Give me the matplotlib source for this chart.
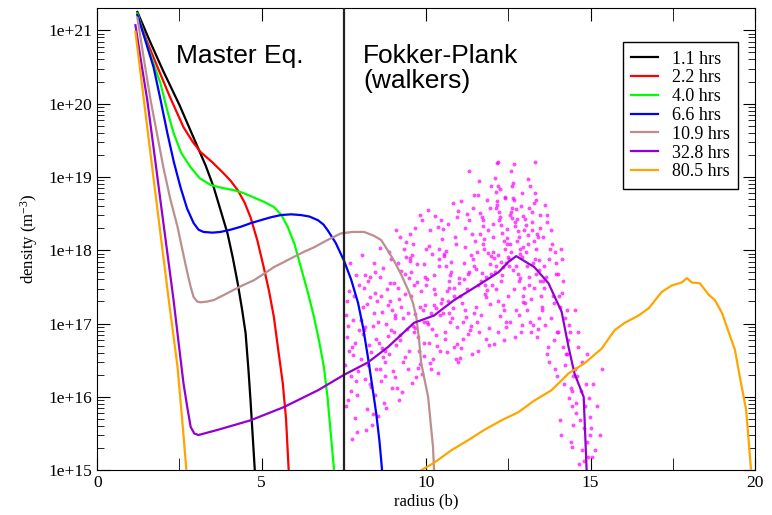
# imports
import numpy as np
import matplotlib
matplotlib.use("Agg")
import matplotlib.pyplot as plt
from matplotlib.ticker import FuncFormatter, LogLocator, MultipleLocator

# density profiles: radius (b) and log10 of density (m^-3)
r_1h = [1.22, 1.6, 2.0, 2.5, 3.05, 3.3, 3.54, 3.96, 4.12, 4.27, 4.4, 4.51, 4.6, 4.66, 4.79]
n_1h = [21.25, 20.85, 20.45, 19.98, 19.41, 19.15, 18.86, 18.23, 17.9, 17.55, 17.2, 16.87,
        16.35, 15.95, 15.0]

r_2h = [1.22, 1.5, 1.83, 2.2, 2.62, 2.9, 3.14, 3.5, 3.84, 4.05, 4.27, 4.48, 4.66, 4.87, 5.06,
        5.22, 5.37, 5.5, 5.64, 5.74, 5.82]
n_2h = [21.22, 20.86, 20.50, 20.1, 19.68, 19.48, 19.34, 19.2, 19.05, 18.95, 18.82, 18.65,
        18.45, 18.13, 17.77, 17.45, 17.09, 16.65, 16.19, 15.7, 15.0]

r_4h = [1.22, 1.55, 1.92, 2.12, 2.32, 2.55, 2.84, 3.12, 3.45, 3.8, 4.15, 4.45, 4.76, 5.07,
        5.37, 5.6, 5.79, 6.0, 6.19, 6.4, 6.59, 6.75, 6.89, 7.0, 7.10, 7.20]
n_4h = [21.23, 20.75, 20.28, 19.92, 19.60, 19.33, 19.13, 18.98, 18.89, 18.85, 18.82, 18.78,
        18.72, 18.66, 18.59, 18.48, 18.32, 18.08, 17.77, 17.43, 17.09, 16.75, 16.41, 16.0,
        15.5, 15.0]

r_6h = [1.22, 1.45, 1.71, 1.92, 2.13, 2.33, 2.53, 2.73, 2.93, 3.08, 3.23, 3.5, 3.75, 4.05,
        4.36, 4.67, 4.97, 5.28, 5.58, 5.9, 6.19, 6.45, 6.71, 6.88, 7.01, 7.25, 7.50, 7.72,
        7.93, 8.09, 8.23, 8.36, 8.48, 8.58, 8.66]
n_6h = [21.21, 20.88, 20.50, 20.06, 19.60, 19.2, 18.86, 18.57, 18.37, 18.28, 18.25, 18.24,
        18.25, 18.28, 18.32, 18.37, 18.41, 18.45, 18.48, 18.49, 18.48, 18.46, 18.41, 18.35,
        18.27, 18.1, 17.86, 17.6, 17.28, 16.93, 16.54, 16.15, 15.78, 15.4, 15.0]

r_10h = [1.22, 1.42, 1.62, 1.82, 2.01, 2.22, 2.44, 2.6, 2.74, 2.84, 2.93, 3.04, 3.14, 3.34,
         3.54, 3.85, 4.15, 4.46, 4.76, 5.07, 5.37, 5.68, 5.98, 6.29, 6.59, 7.0, 7.41, 7.76,
         8.11, 8.4, 8.63, 8.83, 9.02, 9.25, 9.45, 9.6, 9.70, 9.78, 9.85, 10.06, 10.21, 10.24]
n_10h = [21.17, 20.6, 20.05, 19.58, 19.13, 18.7, 18.32, 17.98, 17.69, 17.5, 17.36, 17.3,
         17.29, 17.3, 17.32, 17.39, 17.46, 17.53, 17.59, 17.68, 17.77, 17.84, 17.91, 17.98,
         18.04, 18.14, 18.23, 18.25, 18.25, 18.2, 18.14, 18.0, 17.86, 17.66, 17.46, 17.28,
         17.09, 16.8, 16.46, 16.00, 15.31, 15.0]

r_32h = [1.16, 1.34, 1.52, 1.72, 1.92, 2.12, 2.32, 2.47, 2.62, 2.74, 2.84, 2.95, 3.08, 3.66,
         4.66, 5.67, 6.71, 7.50, 8.23, 8.84, 9.63, 10.24, 10.85, 11.68, 12.20, 12.50, 12.74,
         13.29, 13.72, 14.12, 14.33, 14.51, 14.79, 14.88]
n_32h = [21.07, 20.55, 20.05, 19.37, 18.68, 18.0, 17.32, 16.75, 16.19, 15.85, 15.59, 15.5,
         15.48, 15.55, 15.68, 15.86, 16.09, 16.30, 16.47, 16.68, 17.01, 17.11, 17.32, 17.55,
         17.70, 17.84, 17.92, 17.77, 17.55, 17.16, 16.68, 16.32, 16.00, 15.0]

# 80.5 hrs leaves the plot near r=2.7 and comes back at r=9.9 (nan = gap)
r_80h = [1.16, 1.54, 1.92, 2.18, 2.44, 2.58, 2.71, np.nan,
         9.85, 10.24, 10.76, 11.28, 11.77, 12.29, 12.80, 13.29, 13.81, 14.33, 14.82, 15.34,
         15.73, 16.04, 16.46, 16.77, 17.16, 17.47, 17.77, 17.93, 18.08, 18.32, 18.60, 18.78,
         19.00, 19.21, 19.39, 19.54, 19.73, 19.88]
n_80h = [20.98, 19.6, 18.23, 17.3, 16.41, 15.7, 15.0, np.nan,
         15.0, 15.10, 15.27, 15.41, 15.55, 15.68, 15.79, 15.95, 16.09, 16.32, 16.46, 16.66,
         16.91, 17.01, 17.11, 17.21, 17.43, 17.52, 17.56, 17.62, 17.56, 17.55, 17.39, 17.32,
         17.14, 16.87, 16.64, 16.27, 15.82, 15.0]

labels = ["1.1 hrs", "2.2 hrs", "4.0 hrs", "6.6 hrs", "10.9 hrs", "32.8 hrs", "80.5 hrs"]
colors = ["#000000", "#ff0000", "#00ff00", "#0000ff", "#bc8f8f", "#9400d3", "#ffa500"]

# Fokker-Planck walkers (radius, log10 density)
walker_r = [
    7.58, 7.83, 7.66, 7.94, 7.71, 7.55, 7.88, 7.62, 7.79, 7.97, 7.68, 7.53, 7.91, 7.74, 7.6, 7.86,
    7.77, 7.64, 7.95, 7.57, 7.81, 7.7, 7.9, 7.63, 7.85, 7.75,
    8.07, 8.31, 8.44, 8.02, 8.19, 8.38, 8.12, 8.26, 8.49, 8.05, 8.35, 8.15, 8.42, 8.22, 8.09, 8.29,
    8.46, 8.17, 8.33, 8.03, 8.24, 8.4, 8.11, 8.37, 8.2, 8.47, 8.14, 8.28,
    8.56, 8.81, 8.63, 8.94, 8.52, 8.72, 8.88, 8.6, 8.77, 8.99, 8.67, 8.54, 8.91, 8.74, 8.59, 8.85,
    8.7, 8.97, 8.65, 8.83, 8.53, 8.79, 8.93, 8.62, 8.76, 8.87, 8.68, 8.96,
    9.04, 9.29, 9.13, 9.42, 9.21, 9.06, 9.37, 9.16, 9.48, 9.09, 9.33, 9.25, 9.45, 9.02, 9.19, 9.39,
    9.11, 9.31, 9.47, 9.23, 9.08, 9.35, 9.17, 9.44, 9.27, 9.01, 9.4, 9.14,
    9.53, 9.78, 9.61, 9.92, 9.69, 9.55, 9.86, 9.64, 9.97, 9.58, 9.82, 9.73, 9.94, 9.51, 9.67, 9.88,
    9.6, 9.8, 9.96, 9.71, 9.57, 9.84, 9.66, 9.93, 9.76, 9.52, 9.89, 9.63, 9.99, 9.74,
    10.04, 10.29, 10.12, 10.43, 10.21, 10.07, 10.38, 10.16, 10.48, 10.09, 10.33, 10.24, 10.45,
    10.02, 10.19, 10.4, 10.11, 10.31, 10.47, 10.23, 10.06, 10.35, 10.17, 10.44, 10.27, 10.01,
    10.41, 10.14, 10.36, 10.26,
    10.54, 10.79, 10.62, 10.93, 10.71, 10.57, 10.88, 10.66, 10.98, 10.59, 10.83, 10.74, 10.95,
    10.52, 10.69, 10.9, 10.61, 10.81, 10.97, 10.73, 10.56, 10.85, 10.67, 10.94, 10.77, 10.51,
    10.91, 10.64, 10.86, 10.76,
    11.04, 11.29, 11.12, 11.43, 11.21, 11.07, 11.38, 11.16, 11.48, 11.09, 11.33, 11.24, 11.45,
    11.02, 11.19, 11.4, 11.11, 11.31, 11.47, 11.23, 11.06, 11.35, 11.17, 11.44, 11.27, 11.01,
    11.41, 11.14, 11.36, 11.26, 11.3, 11.18,
    11.54, 11.79, 11.62, 11.93, 11.71, 11.57, 11.88, 11.66, 11.98, 11.59, 11.83, 11.74, 11.95,
    11.52, 11.69, 11.9, 11.61, 11.81, 11.97, 11.73, 11.56, 11.85, 11.67, 11.94, 11.77, 11.51,
    11.91, 11.64, 11.86, 11.76, 11.58, 11.82,
    12.04, 12.29, 12.12, 12.43, 12.21, 12.07, 12.38, 12.16, 12.48, 12.09, 12.33, 12.24, 12.45,
    12.02, 12.19, 12.4, 12.11, 12.31, 12.47, 12.23, 12.06, 12.35, 12.17, 12.44, 12.27, 12.01,
    12.41, 12.14, 12.36, 12.26, 12.08, 12.32, 12.2, 12.42, 12.13, 12.18,
    12.54, 12.79, 12.62, 12.93, 12.71, 12.57, 12.88, 12.66, 12.98, 12.59, 12.83, 12.74, 12.95,
    12.52, 12.69, 12.9, 12.61, 12.81, 12.97, 12.73, 12.56, 12.85, 12.67, 12.94, 12.77, 12.51,
    12.91, 12.64, 12.86, 12.76, 12.58, 12.82, 12.7, 12.92, 12.63, 12.68,
    13.04, 13.29, 13.12, 13.43, 13.21, 13.07, 13.38, 13.16, 13.48, 13.09, 13.33, 13.24, 13.45,
    13.02, 13.19, 13.4, 13.11, 13.31, 13.47, 13.23, 13.06, 13.35, 13.17, 13.44, 13.27, 13.01,
    13.41, 13.14, 13.36, 13.26, 13.3, 13.18,
    13.54, 13.79, 13.62, 13.93, 13.71, 13.57, 13.88, 13.66, 13.98, 13.59, 13.83, 13.74, 13.95,
    13.52, 13.69, 13.9, 13.61, 13.81, 13.97, 13.73, 13.56, 13.85, 13.67, 13.94, 13.77, 13.51,
    13.91, 13.64,
    14.04, 14.29, 14.12, 14.43, 14.21, 14.07, 14.38, 14.16, 14.48, 14.09, 14.33, 14.24, 14.45,
    14.02, 14.19, 14.4, 14.11, 14.31, 14.47, 14.23, 14.06, 14.35, 14.17, 14.44, 14.27, 14.01,
    14.41, 14.14,
    14.54, 14.79, 14.62, 14.93, 14.71, 14.57, 14.88, 14.66, 14.98, 14.59, 14.83, 14.74, 14.95,
    14.52, 14.69, 14.9, 14.61, 14.81, 14.97, 14.73, 14.56, 14.85,
    15.02, 15.08, 15.12, 15.2, 15.3, 15.35, 15.05, 12.2, 13.3,
    # denser core around the peak
    11.63, 11.87, 12.03, 12.15, 12.28, 12.37, 12.49, 12.55, 12.65, 12.78, 12.87, 12.96, 13.05,
    13.13, 13.22, 13.34, 13.42, 11.72, 11.96, 12.25, 12.46, 12.6, 12.84, 13.1, 13.28, 12.39,
    12.72, 12.11, 11.78, 13.46,
    # denser strip along the 32.8 hrs line
    8.15, 8.45, 8.75, 9.05, 9.35, 9.65, 9.95, 10.25, 10.55, 10.85, 8.3, 8.6, 8.9, 9.2, 9.5,
    9.8, 10.1, 10.4, 10.7, 11.0,
]
walker_n = [
    16.82, 15.71, 17.44, 16.35, 16.08, 17.12, 17.66, 15.96, 16.57, 16.91, 17.83, 16.44, 15.52,
    16.68, 17.31, 16.21, 17.05, 16.63, 17.52, 15.88, 17.38, 16.29, 16.02, 16.97, 16.74, 15.43,
    17.22, 16.13, 17.71, 16.52, 15.84, 16.97, 17.49, 16.71, 16.38, 17.93, 15.62, 16.24, 17.14,
    17.58, 16.86, 17.36, 16.02, 15.55, 16.61, 17.05, 16.43, 17.82, 16.91, 15.77, 17.27, 16.79,
    17.66, 16.18,
    16.74, 17.47, 16.21, 17.88, 17.31, 15.92, 16.58, 17.64, 16.99, 16.35, 17.16, 15.74, 17.55,
    16.47, 18.03, 16.83, 17.76, 16.12, 16.66, 17.25, 17.02, 15.85, 16.91, 17.38, 16.29, 17.97,
    16.54, 17.18,
    17.12, 16.48, 17.83, 16.93, 18.18, 16.27, 17.41, 15.96, 17.62, 16.71, 18.02, 17.23, 16.38,
    17.55, 16.84, 17.91, 16.12, 17.07, 16.63, 17.72, 18.27, 16.55, 17.34, 17.15, 16.06, 16.89,
    18.11, 17.49,
    17.38, 16.62, 18.09, 17.02, 16.27, 17.71, 18.41, 16.88, 17.26, 17.93, 16.45, 17.57, 16.73,
    18.22, 17.13, 16.31, 16.97, 18.48, 17.64, 17.81, 16.19, 17.44, 18.31, 16.56, 16.82, 17.86,
    17.19, 17.52, 18.02, 16.39,
    17.61, 16.84, 18.27, 17.12, 16.51, 18.55, 17.79, 16.38, 17.33, 18.06, 16.69, 17.47, 18.41,
    17.02, 16.92, 17.88, 16.46, 17.21, 18.16, 17.66, 16.99, 16.33, 17.95, 17.28, 18.47, 17.53,
    16.62, 17.14, 18.32, 17.41,
    17.92, 17.07, 16.61, 18.46, 17.49, 16.88, 18.18, 17.31, 16.47, 17.78, 18.64, 17.02, 16.72,
    18.29, 17.58, 16.52, 17.99, 17.21, 18.53, 17.66, 16.79, 17.38, 18.36, 16.95, 17.84, 17.14,
    18.08, 17.44, 16.68, 17.71,
    17.37, 18.41, 16.79, 17.88, 17.09, 18.67, 16.58, 17.61, 18.12, 17.28, 16.91, 18.49, 17.79,
    16.53, 17.19, 18.22, 17.02, 17.71, 18.75, 17.47, 16.66, 17.94, 18.31, 17.15, 16.86, 17.55,
    18.58, 17.82, 16.97, 17.67, 19.08, 18.04,
    17.98, 17.41, 16.88, 18.58, 17.69, 16.63, 18.27, 17.12, 18.87, 17.52, 16.79, 18.09, 17.81,
    17.23, 18.46, 16.71, 18.95, 17.36, 17.92, 18.33, 17.02, 18.68, 17.58, 17.27, 18.15, 17.74,
    16.94, 18.51, 17.46, 18.02, 18.76, 17.63,
    18.18, 17.58, 18.79, 17.02, 18.41, 17.89, 16.78, 18.62, 17.38, 18.98, 17.77, 17.11, 18.29,
    17.98, 16.88, 18.71, 17.47, 17.66, 18.09, 18.52, 16.72, 17.25, 18.87, 17.83, 18.34, 17.52,
    18.02, 19.19, 17.18, 18.46, 17.71, 18.24, 17.93, 16.95, 18.57, 17.31,
    18.08, 17.68, 18.88, 17.29, 18.38, 17.97, 16.88, 18.68, 17.49, 19.08, 18.18, 17.19, 18.47,
    17.88, 16.82, 18.78, 18.58, 17.58, 18.27, 17.79, 17.02, 18.02, 19.17, 17.38, 18.43, 17.78,
    16.98, 18.92, 17.62, 18.13, 18.52, 17.12, 18.33, 17.91, 18.71, 17.47,
    17.98, 17.48, 18.58, 17.08, 18.28, 17.78, 16.82, 18.88, 17.38, 18.08, 17.68, 16.98, 18.48,
    17.28, 16.88, 18.18, 18.97, 17.88, 17.58, 18.38, 17.18, 18.68, 17.02, 17.73, 18.12, 18.43,
    16.93, 17.53, 18.22, 17.83, 18.78, 17.33,
    17.58, 18.28, 16.98, 17.98, 16.68, 17.78, 17.28, 18.48, 16.88, 17.48, 18.08, 16.48, 17.68,
    17.18, 18.38, 16.78, 18.62, 17.08, 16.28, 17.88, 18.18, 17.38, 16.58, 17.82, 18.02, 17.23,
    16.38, 17.63,
    17.38, 16.58, 17.88, 16.08, 17.08, 15.68, 16.88, 17.58, 16.28, 15.48, 16.98, 16.58, 15.88,
    17.68, 16.18, 15.38, 18.02, 16.78, 15.62, 16.43, 17.23, 15.98, 16.68, 15.32, 17.18, 16.88,
    16.12, 17.42,
    16.38, 15.58, 16.88, 15.18, 16.08, 15.78, 16.58, 15.08, 15.48, 16.28, 15.88, 15.28, 15.98,
    17.18, 15.68, 15.38, 16.68, 15.13, 15.72, 16.48, 15.92, 16.18,
    15.58, 16.18, 15.28, 15.88, 15.48, 16.38, 15.18, 19.2, 19.2,
    18.22, 17.96, 18.36, 18.67, 17.84, 18.12, 17.91, 18.48, 17.73, 18.26, 18.61, 18.05, 18.35,
    17.64, 18.52, 18.02, 17.87, 18.41, 17.68, 18.83, 18.17, 18.44, 17.95, 18.21, 18.64, 18.73,
    18.56, 17.79, 17.53, 18.31,
    16.95, 17.42, 16.62, 17.08, 17.68, 16.94, 17.81, 17.25, 17.95, 17.48, 17.64, 16.38, 17.31,
    16.77, 17.89, 17.22, 16.74, 18.02, 17.15, 17.62,
]

profiles = [(r_1h, n_1h), (r_2h, n_2h), (r_4h, n_4h), (r_6h, n_6h),
            (r_10h, n_10h), (r_32h, n_32h), (r_80h, n_80h)]

plt.rcParams["font.family"] = ["Liberation Serif", "DejaVu Serif"]
plt.rcParams["mathtext.default"] = "regular"

fig = plt.figure(figsize=(7.72, 5.15), dpi=100)
ax = fig.add_axes([0.126, 0.087, 0.852, 0.897])

# walkers cloud goes under the lines
ax.scatter(walker_r, 10 ** np.array(walker_n), s=8, color="#ff00ff", alpha=0.7,
           linewidths=0, zorder=1)

for (r, n), c, lab in zip(profiles, colors, labels):
    ax.plot(r, 10 ** np.array(n), color=c, lw=1.6, label=lab, zorder=3)

# boundary between the two models
ax.axvline(7.5, color="#222222", lw=1.6, zorder=4)

ax.set_yscale("log")
ax.set_xlim(0, 20)
ax.set_ylim(1e15, 2e21)

ax.xaxis.set_major_locator(MultipleLocator(5))
ax.xaxis.set_minor_locator(MultipleLocator(2.5))
ax.yaxis.set_major_locator(LogLocator(base=10, numticks=20))
ax.yaxis.set_minor_locator(LogLocator(base=10, subs=np.arange(2, 10), numticks=20))
ax.yaxis.set_major_formatter(FuncFormatter(lambda v, p: "1e+%d" % round(np.log10(v))))
ax.yaxis.set_minor_formatter(FuncFormatter(lambda v, p: ""))
ax.tick_params(which="both", direction="in", top=True, right=True, labelsize=12.5)
ax.tick_params(which="major", length=9)
ax.tick_params(which="minor", length=5)
ax.tick_params(axis="x", which="minor", length=9)

ax.set_xlabel("radius (b)", fontsize=12, labelpad=2)
ax.set_ylabel("density (m$^{-3}$)", fontsize=12, labelpad=6)

ax.text(2.38, 10 ** 20.82, "Master Eq.", family=["Liberation Sans"], fontsize=19, va="top")
ax.text(8.08, 10 ** 20.82, "Fokker-Plank\n(walkers)", family=["Liberation Sans"], fontsize=19,
        va="top", linespacing=1.1)

leg = ax.legend(loc="upper right", bbox_to_anchor=(0.974, 0.926), borderaxespad=0,
                fontsize=13, fancybox=False, edgecolor="black", framealpha=1,
                handlelength=1.5, labelspacing=0.1, borderpad=0.45, handletextpad=0.75)
leg.get_frame().set_linewidth(1.0)

plt.savefig("out.png", dpi=100)
